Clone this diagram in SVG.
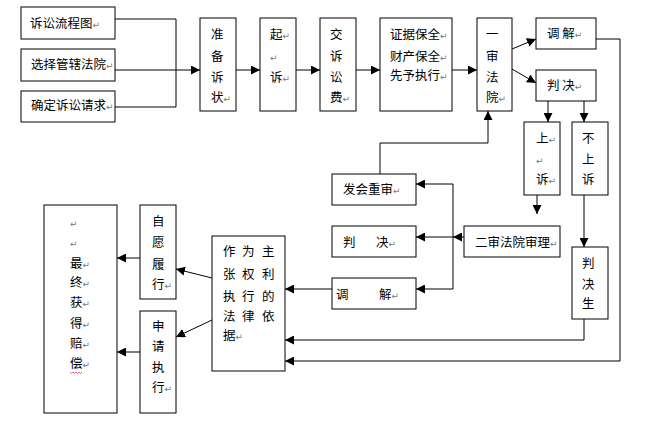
<svg xmlns="http://www.w3.org/2000/svg" width="654" height="437" viewBox="0 0 654 437">
<style>
rect{fill:#fff;stroke:#000;stroke-width:1}
text{font-family:"Noto Sans CJK SC","Noto Sans",sans-serif;font-size:12.5px;fill:#000}
.m{font-family:"DejaVu Sans",sans-serif;font-size:9px;fill:#777}
#connectors path,#connectors line{fill:none;stroke:#000;stroke-width:1}
.a{marker-end:url(#ah)}
</style>
<defs>
<marker id="ah" viewBox="0 0 9 9" markerWidth="9" markerHeight="9" refX="9" refY="4.5" orient="auto" markerUnits="userSpaceOnUse">
<path d="M0,0L9,4.5L0,9z" fill="#000"/>
</marker>
</defs>
<rect x="0" y="0" width="654" height="437" style="stroke:none"/>

<g id="connectors">
<path d="M115,19H176V107H115"/>
<line class="a" x1="115" y1="70" x2="200" y2="70"/>
<line class="a" x1="236" y1="70" x2="260" y2="70"/>
<line class="a" x1="296" y1="70" x2="320" y2="70"/>
<line class="a" x1="356" y1="70" x2="380" y2="70"/>
<line class="a" x1="452" y1="70" x2="477" y2="70"/>
<line class="a" x1="512" y1="49" x2="536" y2="39"/>
<line class="a" x1="512" y1="69" x2="536" y2="83"/>
<line class="a" x1="548" y1="101" x2="548" y2="122"/>
<line class="a" x1="584" y1="101" x2="584" y2="122"/>
<line class="a" x1="537" y1="195" x2="537" y2="214"/>
<line class="a" x1="584" y1="195" x2="584" y2="247"/>
<path class="a" d="M380,174V143H488V111"/>
<line class="a" x1="464" y1="237" x2="453" y2="237"/>
<line x1="453" y1="184" x2="453" y2="289"/>
<line class="a" x1="453" y1="184" x2="416" y2="184"/>
<line class="a" x1="453" y1="237" x2="416" y2="237"/>
<line class="a" x1="453" y1="289" x2="416" y2="289"/>
<line class="a" x1="332" y1="289" x2="285" y2="289"/>
<path class="a" d="M584,319V340H285"/>
<path class="a" d="M596,39H620V361H285"/>
<line class="a" x1="212" y1="278" x2="176" y2="269"/>
<line class="a" x1="212" y1="320" x2="176" y2="337"/>
<line class="a" x1="140" y1="258" x2="117" y2="258"/>
<line class="a" x1="140" y1="352" x2="117" y2="352"/>
</g>

<g id="n1"><rect x="21" y="7" width="94" height="32"/><text x="30" y="28">诉讼流程图<tspan class="m">↵</tspan></text></g>
<g id="n2"><rect x="21" y="49" width="94" height="32"/><text x="31" y="69">选择管辖法院<tspan class="m">↵</tspan></text></g>
<g id="n3"><rect x="21" y="91" width="94" height="31"/><text x="31" y="110">确定诉讼请求<tspan class="m">↵</tspan></text></g>

<g id="n4"><rect x="200" y="18" width="36" height="93"/>
<text x="211" y="39">准</text><text x="211" y="61">备</text><text x="211" y="82">诉</text><text x="211" y="102">状<tspan class="m">↵</tspan></text></g>
<g id="n5"><rect x="260" y="18" width="36" height="93"/>
<text x="270" y="39">起<tspan class="m">↵</tspan></text><text x="270" y="61" class="m">↵</text><text x="270" y="82">诉<tspan class="m">↵</tspan></text></g>
<g id="n6"><rect x="320" y="18" width="36" height="93"/>
<text x="330" y="39">交</text><text x="330" y="61">诉</text><text x="330" y="82">讼</text><text x="330" y="102">费<tspan class="m">↵</tspan></text></g>
<g id="n7"><rect x="380" y="18" width="72" height="93"/>
<text x="390" y="39">证据保全<tspan class="m">↵</tspan></text><text x="390" y="61">财产保全<tspan class="m">↵</tspan></text><text x="390" y="80">先予执行<tspan class="m">↵</tspan></text></g>
<g id="n8"><rect x="477" y="18" width="35" height="93"/>
<text x="486" y="39">一</text><text x="486" y="61">审</text><text x="486" y="82">法</text><text x="486" y="102">院<tspan class="m">↵</tspan></text></g>
<g id="n9"><rect x="536" y="18" width="60" height="31"/><text x="547" y="38">调 解<tspan class="m">↵</tspan></text></g>
<g id="n10"><rect x="536" y="70" width="60" height="31"/><text x="547" y="90">判 决<tspan class="m">↵</tspan></text></g>
<g id="n11"><rect x="524" y="122" width="36" height="73"/>
<text x="536" y="143">上<tspan class="m">↵</tspan></text><text x="536" y="164" class="m">↵</text><text x="536" y="184">诉<tspan class="m">↵</tspan></text></g>
<g id="n12"><rect x="572" y="122" width="36" height="73"/>
<text x="582" y="143">不</text><text x="582" y="164">上</text><text x="582" y="184">诉</text></g>
<g id="n13"><rect x="572" y="247" width="36" height="72"/>
<text x="582" y="268">判</text><text x="582" y="289">决</text><text x="582" y="308">生</text></g>
<g id="n14"><rect x="464" y="226" width="96" height="31"/><text x="475" y="247">二审法院审理<tspan class="m">↵</tspan></text></g>
<g id="n15"><rect x="332" y="174" width="84" height="31"/><text x="343" y="194">发会重审<tspan class="m">↵</tspan></text></g>
<g id="n16"><rect x="332" y="226" width="84" height="31"/><text x="343" y="247">判</text><text x="376" y="247">决<tspan class="m">↵</tspan></text></g>
<g id="n17"><rect x="332" y="278" width="84" height="31"/><text x="336" y="299">调</text><text x="379" y="299">解<tspan class="m">↵</tspan></text></g>
<g id="n18"><rect x="212" y="236" width="73" height="135"/>
<text x="223" y="256">作</text><text x="242" y="256">为</text><text x="262" y="256">主</text>
<text x="223" y="279">张</text><text x="242" y="279">权</text><text x="262" y="279">利</text>
<text x="223" y="301">执</text><text x="242" y="301">行</text><text x="262" y="301">的</text>
<text x="223" y="321">法</text><text x="242" y="321">律</text><text x="262" y="321">依</text>
<text x="223" y="340">据<tspan class="m">↵</tspan></text></g>
<g id="n19"><rect x="140" y="205" width="36" height="94"/>
<text x="152" y="226">自</text><text x="152" y="247">愿</text><text x="152" y="269">履</text><text x="152" y="289">行<tspan class="m">↵</tspan></text></g>
<g id="n20"><rect x="140" y="311" width="36" height="102"/>
<text x="152" y="331">申</text><text x="152" y="351">请</text><text x="152" y="372">执</text><text x="152" y="392">行<tspan class="m">↵</tspan></text></g>
<g id="n21"><rect x="44" y="205" width="73" height="208"/>
<text x="70" y="227" class="m">↵</text><text x="70" y="247" class="m">↵</text>
<text x="70" y="268">最<tspan class="m">↵</tspan></text><text x="70" y="287">终<tspan class="m">↵</tspan></text>
<text x="70" y="307">获<tspan class="m">↵</tspan></text><text x="70" y="328">得<tspan class="m">↵</tspan></text>
<text x="70" y="348">赔<tspan class="m">↵</tspan></text><text x="70" y="368">偿<tspan class="m">↵</tspan></text>
<path d="M70,372l1.5,1.5l1.5,-1.5l1.5,1.5l1.5,-1.5l1.5,1.5l1.5,-1.5l1.5,1.5l1.5,-1.5" fill="none" stroke="#d33" stroke-width="0.7"/></g>
</svg>
